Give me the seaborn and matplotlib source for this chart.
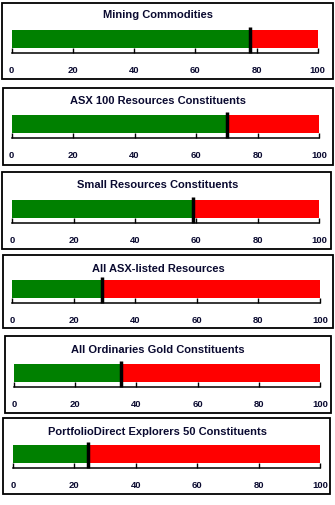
import matplotlib
matplotlib.use("Agg")
import matplotlib.pyplot as plt
from matplotlib.patches import Rectangle
import seaborn as sns
import pandas as pd

# ---- data ----
titles = [
    "Mining Commodities",
    "ASX 100 Resources Constituents",
    "Small Resources Constituents",
    "All ASX-listed Resources",
    "All Ordinaries Gold Constituents",
    "PortfolioDirect Explorers 50 Constituents",
]
values = [78, 70, 59, 29, 35, 24.5]
total = 100
tick_values = [0, 20, 40, 60, 80, 100]
tick_labels = ["0", "20", "40", "60", "80", "100"]

# ---- layout (pixels) ----
W, H = 335, 506
boxes = [(2, 4, 333, 80), (3, 89, 333, 166), (2, 173, 331, 250),
         (3, 256, 333, 329), (5, 337, 331, 414), (3, 419, 330, 495)]
bar_x = [(11.7, 317.7), (11.7, 319), (12.3, 319), (12.3, 320), (14, 320), (13, 320)]
bar_top = [31, 116, 200.7, 280.7, 365, 445.7]
title_y = [15, 100.7, 185, 269, 350, 431.7]

GREEN = "#008000"
RED = "#ff0000"
TXT = "#0a0a30"

sns.set_theme(style="white")
plt.rcParams["font.family"] = ["Liberation Sans", "DejaVu Sans"]

fig = plt.figure(figsize=(W / 100, H / 100), dpi=100)

BAR_H = 18.0
PPU = BAR_H / 0.8
GAP_BELOW = 5.0
GAP_ABOVE = 3.0

for i, (title, val) in enumerate(zip(titles, values)):
    bx0, by0, bx1, by1 = boxes[i]
    fig.add_artist(Rectangle((bx0 / W, 1 - by1 / H), (bx1 - bx0) / W, (by1 - by0) / H,
                             transform=fig.transFigure, fill=False,
                             edgecolor="black", linewidth=1.3))
    x0, x1 = bar_x[i]
    ax_top = bar_top[i] - GAP_ABOVE
    ax_bot = bar_top[i] + BAR_H + GAP_BELOW
    ax = fig.add_axes([x0 / W, 1 - ax_bot / H, (x1 - x0) / W, (ax_bot - ax_top) / H])
    df_full = pd.DataFrame({"cat": [title], "val": [total]})
    df_val = pd.DataFrame({"cat": [title], "val": [val]})
    sns.barplot(data=df_full, x="val", y="cat", orient="h", color=RED,
                saturation=1, width=0.8, linewidth=0, ax=ax)
    sns.barplot(data=df_val, x="val", y="cat", orient="h", color=GREEN,
                saturation=1, width=0.8, linewidth=0, ax=ax)
    lo = 0.4 + GAP_BELOW / PPU
    hi = -0.4 - GAP_ABOVE / PPU
    ax.set_ylim(lo, hi)
    ax.set_xlim(0, total)
    ax.vlines(val, lo, hi, color="black", linewidth=2.5, clip_on=False, zorder=5)
    ax.patch.set_alpha(0)
    for s in ["top", "left", "right"]:
        ax.spines[s].set_visible(False)
    ax.spines["bottom"].set_color("black")
    ax.spines["bottom"].set_linewidth(1.1)
    ax.set_xticks(tick_values)
    ax.set_xticklabels(tick_labels, fontsize=6.8, fontweight="bold", color=TXT)
    ax.tick_params(axis="x", direction="in", length=3.5, width=1, color="black",
                   pad=8.5, bottom=True)
    ax.set_yticks([])
    ax.set_xlabel("")
    ax.set_ylabel("")
    fig.text(158 / W, 1 - title_y[i] / H, title, ha="center", va="center",
             fontsize=8, fontweight="bold", color=TXT)

fig.savefig("out.png", dpi=100)
